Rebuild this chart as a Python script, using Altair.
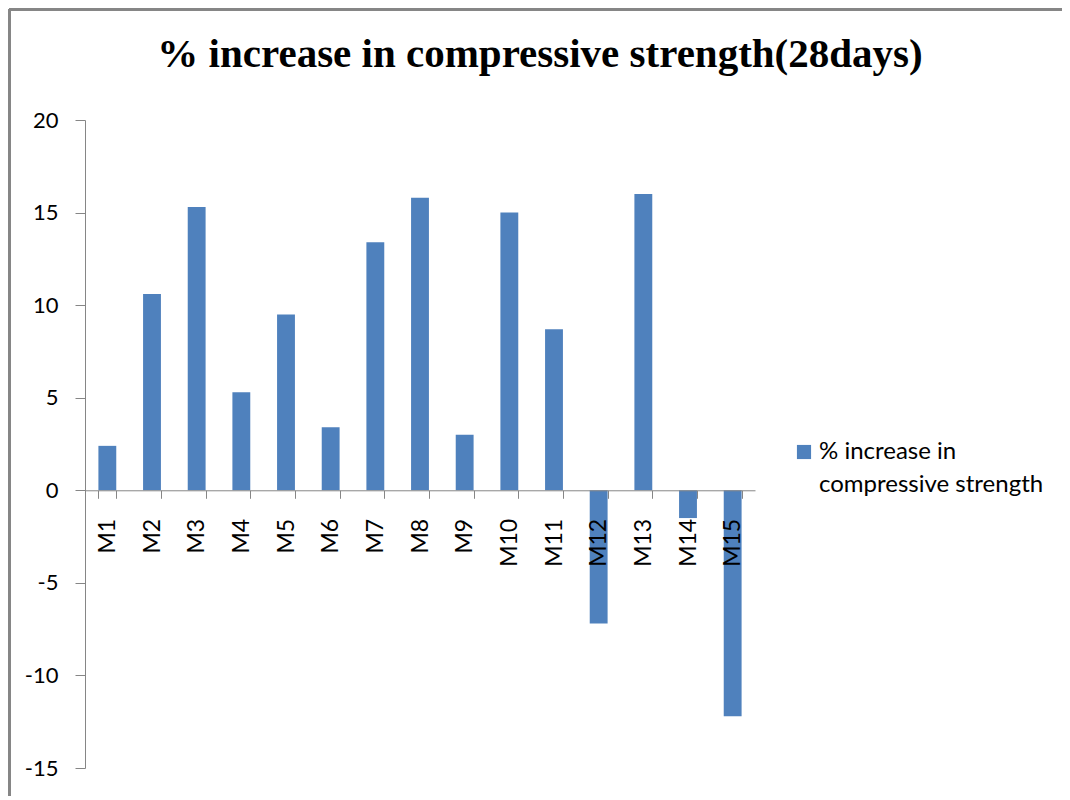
import altair as alt
import pandas as pd

categories = ["M1", "M2", "M3", "M4", "M5", "M6", "M7", "M8", "M9", "M10",
              "M11", "M12", "M13", "M14", "M15"]
values = [2.4, 10.6, 15.3, 5.3, 9.5, 3.4, 13.4, 15.8, 3.0, 15.0,
          8.7, -7.2, 16.0, -1.5, -12.2]
series_name = "% increase in compressive strength"
title_text = "% increase in compressive strength(28days)"
y_ticks = [-15, -10, -5, 0, 5, 10, 15, 20]

df = pd.DataFrame({"cat": categories, "val": values, "series": series_name})

W, H = 670, 648
zero_offset = -(H - H * 20 / 35)

bars = alt.Chart(df).mark_bar(color="#4F81BD").encode(
    x=alt.X("cat:N", sort=categories,
            scale=alt.Scale(paddingInner=0.6, paddingOuter=0.3),
            axis=alt.Axis(title=None, labelAngle=270, labelFont="Lato",
                          labelFontSize=23, labelColor="black",
                          labelPadding=20, tickBand="extent", tickSize=8,
                          tickColor="#868686", domainColor="#868686",
                          offset=zero_offset, grid=False, zindex=1)),
    y=alt.Y("val:Q", scale=alt.Scale(domain=[-15, 20], nice=False),
            axis=alt.Axis(title=None, values=y_ticks, labelFont="Lato",
                          labelFontSize=22, labelColor="black",
                          labelPadding=17, tickSize=10,
                          tickColor="#868686", domainColor="#868686",
                          labelExpr="'' + datum.value", grid=False)),
    color=alt.Color("series:N",
                    scale=alt.Scale(range=["#4F81BD"]),
                    legend=alt.Legend(title=None, orient="none",
                                      legendX=707, legendY=320,
                                      symbolType="square", symbolSize=200,
                                      symbolStrokeWidth=0, labelOffset=3,
                                      labelFont="Lato", labelFontSize=24,
                                      labelColor="black", labelLimit=400,
                                      labelExpr="['% increase in', 'compressive strength']")),
)

frame_left = alt.Chart(df).mark_rule(color="#868686", strokeWidth=2).encode(
    x=alt.value(-75.5), y=alt.value(-110.5), y2=alt.value(H + 100)
)
frame_top = alt.Chart(df).mark_rule(color="#868686", strokeWidth=2).encode(
    x=alt.value(-75.5), x2=alt.value(W + 400), y=alt.value(-110.5)
)

chart = alt.layer(frame_left, frame_top, bars).properties(
    width=W, height=H,
    title=alt.TitleParams(title_text, font="Liberation Serif", fontSize=41,
                          fontWeight="bold", color="black", anchor="middle",
                          dx=120, dy=99, baseline="alphabetic", offset=0),
    autosize=alt.AutoSizeParams(type="none"),
    padding={"left": 77, "top": 112, "right": 307, "bottom": 28},
).configure(
    style={"guide-label": {"lineHeight": 33}}
).configure_view(strokeOpacity=0)

chart.save("out.html", embed_options={"renderer": "svg", "actions": False})
